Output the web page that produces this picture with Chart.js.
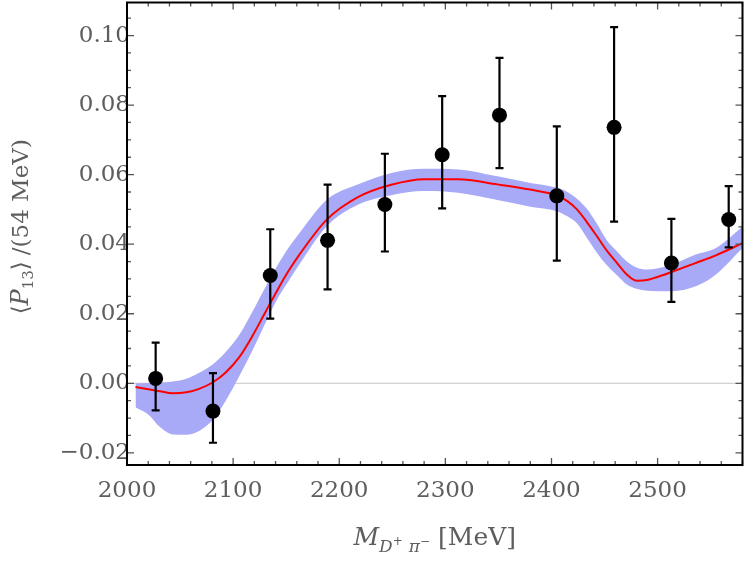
<!DOCTYPE html>
<html>
<head>
<meta charset="utf-8">
<script src="https://cdn.jsdelivr.net/npm/chart.js@4.4.1/dist/chart.umd.min.js"></script>
<style>
  html, body { margin: 0; padding: 0; background: #fff; }
  #wrap { width: 750px; height: 561px; position: relative; overflow: hidden; }
  #holder { position: absolute; left: 0; top: -5px; width: 750px; height: 566px; }
</style>
</head>
<body>
<div id="wrap"><div id="holder"><canvas id="momentChart"></canvas></div></div>
<script>
// Measured moment <P13> per 54 MeV bin
const massBins = [2027, 2081, 2135, 2189, 2243, 2297, 2351, 2405, 2459, 2513, 2567];
const momentValues = [0.0014, -0.0080, 0.0310, 0.0411, 0.0514, 0.0657, 0.0771, 0.0539, 0.0736, 0.0346, 0.0471];
const errorHigh = [0.0117, 0.0029, 0.0443, 0.0571, 0.0660, 0.0826, 0.0936, 0.0739, 0.1024, 0.0473, 0.0567];
const errorLow = [-0.0078, -0.0171, 0.0186, 0.0270, 0.0379, 0.0503, 0.0619, 0.0353, 0.0465, 0.0234, 0.0391];

// Fit curve and its uncertainty band
const fitMass = [2008, 2020, 2031, 2043, 2056, 2068, 2081, 2093, 2106, 2118, 2131, 2143, 2152, 2162, 2188, 2218, 2249, 2280, 2312, 2349, 2380, 2405, 2415, 2424, 2433, 2443, 2452, 2462, 2471, 2480, 2490, 2499, 2513, 2536, 2555, 2580];
const fitValues = [-0.0011, -0.0017, -0.0023, -0.0029, -0.0026, -0.0016, 0.0003, 0.0031, 0.0076, 0.0135, 0.0208, 0.0275, 0.0322, 0.0368, 0.0470, 0.0536, 0.0571, 0.0587, 0.0587, 0.0572, 0.0557, 0.0540, 0.0524, 0.0500, 0.0465, 0.0422, 0.0382, 0.0345, 0.0313, 0.0295, 0.0297, 0.0305, 0.0320, 0.0346, 0.0368, 0.0403];
const bandUpper = [0.0000, 0.0001, 0.0002, 0.0005, 0.0013, 0.0030, 0.0055, 0.0090, 0.0140, 0.0205, 0.0280, 0.0345, 0.0389, 0.0430, 0.0527, 0.0572, 0.0605, 0.0617, 0.0615, 0.0595, 0.0576, 0.0562, 0.0550, 0.0531, 0.0503, 0.0458, 0.0412, 0.0378, 0.0350, 0.0333, 0.0327, 0.0330, 0.0340, 0.0370, 0.0389, 0.0450];
const bandLower = [-0.0069, -0.0090, -0.0126, -0.0147, -0.0148, -0.0137, -0.0105, -0.0050, 0.0022, 0.0093, 0.0177, 0.0250, 0.0293, 0.0340, 0.0451, 0.0514, 0.0541, 0.0553, 0.0548, 0.0527, 0.0508, 0.0495, 0.0480, 0.0460, 0.0420, 0.0375, 0.0340, 0.0310, 0.0284, 0.0272, 0.0266, 0.0265, 0.0265, 0.0279, 0.0313, 0.0389];

// Tick labels
const xTickValues = [2000, 2100, 2200, 2300, 2400, 2500];
const yTickValues = [-0.02, 0.00, 0.02, 0.04, 0.06, 0.08, 0.10];

const FONT = '"DejaVu Serif", "Liberation Serif", serif';
const TEXT_GRAY = '#5e5e5e';

function toPoints(xs, ys) {
    return xs.map((x, i) => ({ x: x, y: ys[i] }));
}

function formatY(v) {
    if (Math.abs(v) < 1e-9) return '0.00';
    return (v < 0 ? '\u2212' : '') + Math.abs(v).toFixed(2);
}

// Draw a row of text pieces (italic / sub / sup) centred at x
function drawRich(ctx, parts, x, y) {
    let total = 0;
    parts.forEach(p => {
        ctx.font = (p.italic ? 'italic ' : '') + p.size + 'px ' + FONT;
        p.w = ctx.measureText(p.t).width;
        total += p.w + (p.gap || 0);
    });
    let cx = x - total / 2;
    ctx.fillStyle = TEXT_GRAY;
    ctx.textAlign = 'left';
    ctx.textBaseline = 'alphabetic';
    parts.forEach(p => {
        ctx.font = (p.italic ? 'italic ' : '') + p.size + 'px ' + FONT;
        ctx.fillText(p.t, cx, y + (p.dy || 0));
        cx += p.w + (p.gap || 0);
    });
}

const framePlugin = {
    id: 'framePlugin',
    beforeDatasetsDraw(chart) {
        // zero reference line
        const { ctx, chartArea } = chart;
        const y0 = chart.scales.y.getPixelForValue(0);
        ctx.save();
        ctx.strokeStyle = '#c4c4c4';
        ctx.lineWidth = 1;
        ctx.beginPath();
        ctx.moveTo(chartArea.left, y0);
        ctx.lineTo(chartArea.right, y0);
        ctx.stroke();
        ctx.restore();
    },
    beforeDatasetDraw(chart, args) {
        if (args.index !== 0) return;
        // error bars under the points
        const { ctx } = chart;
        const xs = chart.scales.x, ys = chart.scales.y;
        ctx.save();
        ctx.strokeStyle = '#000';
        ctx.lineWidth = 2.2;
        massBins.forEach((m, i) => {
            const px = xs.getPixelForValue(m);
            const top = ys.getPixelForValue(errorHigh[i]);
            const bot = ys.getPixelForValue(errorLow[i]);
            ctx.beginPath();
            ctx.moveTo(px, top);
            ctx.lineTo(px, bot);
            ctx.moveTo(px - 4, top);
            ctx.lineTo(px + 4, top);
            ctx.moveTo(px - 4, bot);
            ctx.lineTo(px + 4, bot);
            ctx.stroke();
        });
        ctx.restore();
    },
    afterDatasetsDraw(chart) {
        const { ctx, chartArea } = chart;
        const xs = chart.scales.x, ys = chart.scales.y;
        const { left, right, top, bottom } = chartArea;
        ctx.save();
        // tick marks on all four sides
        ctx.strokeStyle = '#555';
        ctx.lineWidth = 1.3;
        ctx.beginPath();
        for (let v = 2000; v <= xs.max + 0.1; v += 20) {
            const px = xs.getPixelForValue(v);
            const len = (v % 100 === 0) ? 7 : 4;
            ctx.moveTo(px, bottom); ctx.lineTo(px, bottom - len);
            ctx.moveTo(px, top); ctx.lineTo(px, top + len);
        }
        for (let k = -4; k <= 21; k++) {
            const v = k * 0.005;
            if (v < ys.min || v > ys.max) continue;
            const py = ys.getPixelForValue(v);
            const len = (k % 4 === 0) ? 7 : 4;
            ctx.moveTo(left, py); ctx.lineTo(left + len, py);
            ctx.moveTo(right, py); ctx.lineTo(right - len, py);
        }
        ctx.stroke();
        // frame
        ctx.strokeStyle = '#000';
        ctx.lineWidth = 2;
        ctx.strokeRect(left, top, right - left, bottom - top);
        ctx.restore();
    },
    afterDraw(chart) {
        const { ctx, chartArea } = chart;
        ctx.save();
        // x axis title
        const cx = (chartArea.left + chartArea.right) / 2;
        drawRich(ctx, [
            { t: 'M', italic: true, size: 25 },
            { t: 'D', italic: true, size: 17, dy: 7 },
            { t: '+', size: 12, dy: 0, gap: 6 },
            { t: '\u03C0', italic: true, size: 17, dy: 7 },
            { t: '\u2212', size: 12, dy: 0, gap: 8 },
            { t: '[MeV]', size: 25 }
        ], cx, chartArea.bottom + 80);
        // y axis title (rotated)
        ctx.translate(28, (chartArea.top + chartArea.bottom) / 2 - 7);
        ctx.rotate(-Math.PI / 2);
        drawRich(ctx, [
            { t: '\u27E8', size: 23 },
            { t: 'P', italic: true, size: 24 },
            { t: '13', size: 15, dy: 5 },
            { t: '\u27E9', size: 23, gap: 6 },
            { t: '/(54 MeV)', size: 23 }
        ], 0, 0);
        ctx.restore();
    }
};

const bandColor = 'rgb(168, 170, 248)';

new Chart(document.getElementById('momentChart'), {
    type: 'scatter',
    data: {
        datasets: [
            {
                label: 'Data',
                data: toPoints(massBins, momentValues),
                backgroundColor: '#000',
                borderWidth: 0,
                pointRadius: 7.5,
                showLine: false
            },
            {
                label: 'Fit',
                data: toPoints(fitMass, fitValues),
                borderColor: '#ff0000',
                borderWidth: 2,
                pointRadius: 0,
                showLine: true,
                cubicInterpolationMode: 'monotone',
                fill: false
            },
            {
                label: 'Band low',
                data: toPoints(fitMass, bandLower),
                borderColor: 'transparent',
                borderWidth: 0,
                pointRadius: 0,
                showLine: true,
                cubicInterpolationMode: 'monotone',
                fill: false
            },
            {
                label: 'Band high',
                data: toPoints(fitMass, bandUpper),
                borderColor: 'transparent',
                backgroundColor: bandColor,
                borderWidth: 0,
                pointRadius: 0,
                showLine: true,
                cubicInterpolationMode: 'monotone',
                fill: 2
            }
        ]
    },
    options: {
        responsive: true,
        maintainAspectRatio: false,
        animation: false,
        layout: { padding: { top: 1, right: 3, left: 0, bottom: 0 } },
        plugins: {
            legend: { display: false },
            tooltip: { enabled: false }
        },
        scales: {
            x: {
                type: 'linear',
                min: 2000,
                max: 2580,
                grid: { display: false, drawTicks: false },
                border: { display: false },
                afterBuildTicks: (scale) => { scale.ticks = xTickValues.map(v => ({ value: v })); },
                afterFit: (scale) => {
                    scale.height = 96;
                    scale.paddingLeft = 0;
                    scale.paddingRight = 0;
                },
                ticks: {
                    padding: 12,
                    color: TEXT_GRAY,
                    font: { family: FONT, size: 23 },
                    callback: (v) => String(v)
                }
            },
            y: {
                type: 'linear',
                min: -0.0235,
                max: 0.1095,
                grid: { display: false, drawTicks: false },
                border: { display: false },
                afterBuildTicks: (scale) => { scale.ticks = yTickValues.map(v => ({ value: v })); },
                afterFit: (scale) => {
                    scale.width = 127;
                    scale.paddingTop = 0;
                    scale.paddingBottom = 0;
                },
                ticks: {
                    padding: -3,
                    color: TEXT_GRAY,
                    font: { family: FONT, size: 23 },
                    callback: (v) => formatY(v)
                }
            }
        }
    },
    plugins: [framePlugin]
});
</script>
</body>
</html>
